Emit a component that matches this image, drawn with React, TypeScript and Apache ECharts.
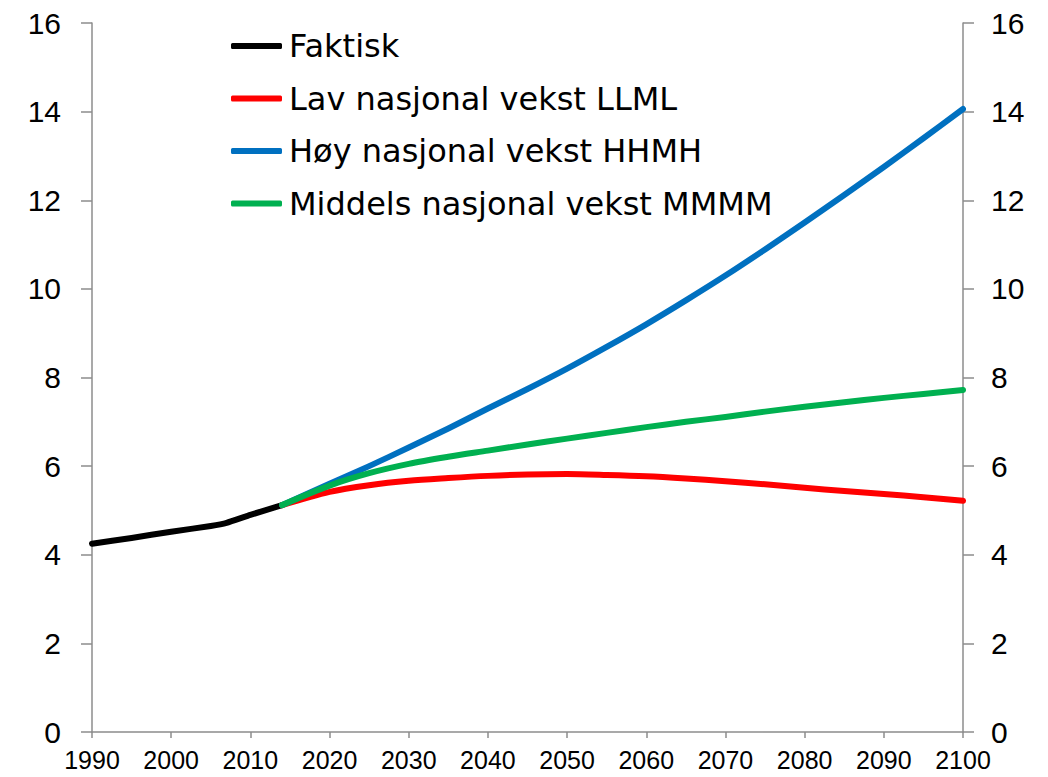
import React, { useEffect, useRef } from "react";
import * as echarts from "echarts";

const seriesNames = [
  "Faktisk",
  "Lav nasjonal vekst LLML",
  "Høy nasjonal vekst HHMH",
  "Middels nasjonal vekst MMMM",
];
const seriesColors = ["#000000", "#FF0000", "#0070C0", "#00B050"];

const faktiskYears = [1990, 1995, 2000, 2005, 2007, 2010, 2014];
const faktiskValues = [4.25, 4.38, 4.52, 4.65, 4.72, 4.9, 5.12];

const projYears = [2014, 2020, 2025, 2030, 2035, 2040, 2045, 2050, 2055, 2060, 2065, 2070, 2075, 2080, 2085, 2090, 2095, 2100];
const lavValues = [5.12, 5.42, 5.57, 5.67, 5.73, 5.78, 5.81, 5.82, 5.8, 5.77, 5.72, 5.66, 5.59, 5.51, 5.44, 5.37, 5.3, 5.22];
const hoyValues = [5.12, 5.6, 6.0, 6.42, 6.85, 7.3, 7.74, 8.2, 8.69, 9.2, 9.74, 10.3, 10.89, 11.5, 12.12, 12.75, 13.4, 14.06];
const middelsValues = [5.12, 5.56, 5.84, 6.05, 6.21, 6.35, 6.49, 6.62, 6.75, 6.88, 7.0, 7.11, 7.23, 7.34, 7.44, 7.54, 7.63, 7.72];

const yTicks = [0, 2, 4, 6, 8, 10, 12, 14, 16];
const xTicks = [1990, 2000, 2010, 2020, 2030, 2040, 2050, 2060, 2070, 2080, 2090, 2100];

const pairs = (xs: number[], ys: number[]) => xs.map((x, i) => [x, ys[i]]);

export default function App() {
  const ref = useRef<HTMLDivElement>(null);
  useEffect(() => {
    if (!ref.current) return;
    const chart = echarts.init(ref.current, undefined, { renderer: "svg" });
    const axisFont = "Liberation Sans";
    const axisGray = "#8c8c8c";
    const dataSets = [
      pairs(faktiskYears, faktiskValues),
      pairs(projYears, lavValues),
      pairs(projYears, hoyValues),
      pairs(projYears, middelsValues),
    ];
    const yAxisCommon = {
      type: "value" as const,
      min: yTicks[0],
      max: yTicks[yTicks.length - 1],
      interval: 2,
      splitLine: { show: false },
      axisLine: { show: true, lineStyle: { color: axisGray, width: 1.5 } },
      axisTick: { show: true, inside: false, length: 11, lineStyle: { color: axisGray, width: 1.5 } },
    };
    chart.setOption({
      animation: false,
      backgroundColor: "#ffffff",
      grid: { left: 92, right: 85, top: 23, bottom: 45, containLabel: false },
      legend: {
        show: true,
        orient: "vertical",
        left: 226,
        top: 25,
        itemWidth: 51,
        itemHeight: 6,
        itemGap: 20.5,
        icon: "roundRect",
        data: seriesNames,
        textStyle: {
          fontFamily: "DejaVu Sans",
          fontSize: 32,
          lineHeight: 30,
          color: "#000",
          padding: [0, 0, 0, 2],
        },
      },
      xAxis: {
        type: "value",
        min: xTicks[0],
        max: xTicks[xTicks.length - 1],
        interval: 10,
        splitLine: { show: false },
        axisLine: { show: true, lineStyle: { color: axisGray, width: 1.5 } },
        axisTick: { show: true, inside: false, length: 6, lineStyle: { color: axisGray, width: 1.5 } },
        axisLabel: {
          fontFamily: axisFont,
          fontSize: 25,
          color: "#000",
          margin: 15,
          formatter: (v: number) => String(v),
        },
      },
      yAxis: [
        {
          ...yAxisCommon,
          position: "left",
          axisLabel: { fontFamily: axisFont, fontSize: 30, color: "#000", margin: 31 },
        },
        {
          ...yAxisCommon,
          position: "right",
          axisLabel: { fontFamily: axisFont, fontSize: 30, color: "#000", margin: 28 },
        },
      ],
      series: seriesNames.map((name, i) => ({
        name,
        type: "line",
        data: dataSets[i],
        yAxisIndex: 0,
        showSymbol: false,
        symbol: "none",
        smooth: i === 0 ? 0.15 : 0.3,
        color: seriesColors[i],
        lineStyle: { color: seriesColors[i], width: 6, cap: "round", join: "round" },
        z: 2 + i,
      })),
    });
    return () => chart.dispose();
  }, []);
  return (
    <div
      ref={ref}
      style={{ position: "fixed", left: 0, top: 0, width: 1048, height: 777, background: "#fff" }}
    />
  );
}
